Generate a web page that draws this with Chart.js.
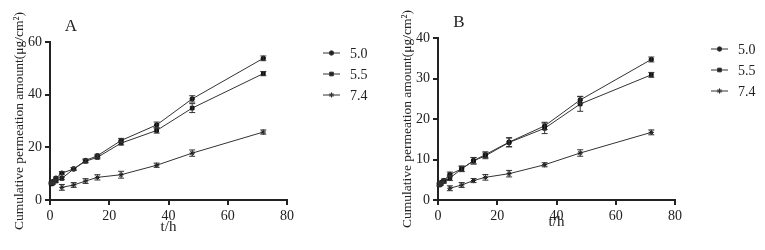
<!DOCTYPE html>
<html>
<head>
<meta charset="utf-8">
<script src="https://cdn.jsdelivr.net/npm/chart.js@4.4.1/dist/chart.umd.min.js"></script>
<style>
  html, body { margin: 0; padding: 0; background: #fff; }
  #wrap { position: relative; width: 765px; height: 250px; }
  #chartA { position: absolute; left: 0; top: 0; }
  #chartB { position: absolute; left: 380px; top: 0; }
</style>
</head>
<body>
<div id="wrap">
  <canvas id="chartA" width="380" height="250"></canvas>
  <canvas id="chartB" width="385" height="250"></canvas>
</div>
<script>
// sampling times (h)
const times = [0.5, 1, 2, 4, 8, 12, 16, 24, 36, 48, 72];
const times74 = [4, 8, 12, 16, 24, 36, 48, 72];
const seriesLabels = ['5.0', '5.5', '7.4'];

// panel A
const a50 = [6.6, 7.0, 8.3, 10.2, 11.8, 15.0, 16.8, 22.6, 28.5, 38.4, 53.8];
const a50Err = [0.3, 0.3, 0.4, 0.6, 0.5, 0.6, 0.6, 0.8, 1.1, 1.2, 0.9];
const a55 = [6.1, 6.4, 7.2, 8.2, 11.8, 14.7, 16.2, 21.6, 26.4, 34.9, 48.0];
const a55Err = [0.3, 0.3, 0.4, 0.5, 0.5, 0.6, 0.6, 0.7, 1.0, 1.7, 0.8];
const a74 = [4.8, 5.7, 7.2, 8.6, 9.6, 13.2, 17.8, 25.8];
const a74Err = [1.1, 0.9, 0.9, 1.0, 1.3, 0.8, 1.2, 0.8];

// panel B
const b50 = [3.9, 4.3, 4.8, 6.3, 7.7, 9.7, 11.2, 14.3, 18.3, 24.7, 34.7];
const b50Err = [0.3, 0.3, 0.4, 0.6, 0.6, 0.8, 0.7, 1.1, 0.9, 0.9, 0.6];
const b55 = [3.7, 4.0, 4.6, 5.4, 7.7, 9.7, 10.9, 14.2, 17.7, 23.7, 30.9];
const b55Err = [0.3, 0.3, 0.4, 0.6, 0.7, 0.8, 0.7, 1.1, 1.3, 1.8, 0.6];
const b74 = [2.9, 3.7, 4.8, 5.6, 6.5, 8.7, 11.6, 16.7];
const b74Err = [0.6, 0.6, 0.5, 0.7, 0.8, 0.5, 0.8, 0.6];

const ink = '#333';
const serif = "'Liberation Serif', 'Times New Roman', serif";
const pointStyles = ['circle', 'rect', 'star'];
const pointRadii = [2.2, 2.6, 2.6];

function toXY(xs, ys) {
    return xs.map(function(x, i) { return { x: x, y: ys[i] }; });
}

// vertical error bars with caps
const errorBars = {
    id: 'errorBars',
    afterDatasetsDraw: function(chart) {
        const ctx = chart.ctx;
        const yScale = chart.scales.y;
        ctx.save();
        ctx.strokeStyle = ink;
        ctx.lineWidth = 1;
        chart.data.datasets.forEach(function(ds, di) {
            const meta = chart.getDatasetMeta(di);
            meta.data.forEach(function(pt, i) {
                const e = ds.errors[i];
                const v = ds.data[i].y;
                const yTop = yScale.getPixelForValue(v + e);
                const yBot = yScale.getPixelForValue(v - e);
                ctx.beginPath();
                ctx.moveTo(pt.x, yTop); ctx.lineTo(pt.x, yBot);
                ctx.moveTo(pt.x - 3, yTop); ctx.lineTo(pt.x + 3, yTop);
                ctx.moveTo(pt.x - 3, yBot); ctx.lineTo(pt.x + 3, yBot);
                ctx.stroke();
            });
        });
        ctx.restore();
    }
};

// panel letter and side legend
const decorations = {
    id: 'decorations',
    afterDraw: function(chart, args, opts) {
        const ctx = chart.ctx;
        const area = chart.chartArea;
        ctx.save();
        ctx.fillStyle = '#222';
        ctx.font = '17px ' + serif;
        ctx.textAlign = 'center';
        ctx.textBaseline = 'middle';
        ctx.fillText(opts.letter, area.left + 21, area.top - 15);

        ctx.font = '14px ' + serif;
        ctx.textAlign = 'left';
        chart.data.datasets.forEach(function(ds, i) {
            const y = area.top + 11 + i * 21;
            const x0 = area.right + 36;
            ctx.strokeStyle = ink;
            ctx.lineWidth = 1;
            ctx.beginPath();
            ctx.moveTo(x0, y); ctx.lineTo(x0 + 17, y);
            ctx.stroke();
            Chart.helpers.drawPoint(ctx, {
                pointStyle: ds.pointStyle, radius: ds.pointRadius,
                borderWidth: 1, rotation: 0
            }, x0 + 8.5, y);
            ctx.fillStyle = '#222';
            ctx.fillText(ds.label, x0 + 27, y + 1);
        });
        ctx.restore();
    }
};

function makePanel(id, letter, s50, e50, s55, e55, s74, e74, yMax, yStep, padTop, padLeft, padRight, xTitlePad) {
    const sets = [
        { xs: times, ys: s50, es: e50 },
        { xs: times, ys: s55, es: e55 },
        { xs: times74, ys: s74, es: e74 }
    ];
    const datasets = sets.map(function(s, i) {
        return {
            label: seriesLabels[i],
            data: toXY(s.xs, s.ys),
            errors: s.es,
            borderColor: ink,
            backgroundColor: '#111',
            borderWidth: 1,
            pointStyle: pointStyles[i],
            pointRadius: pointRadii[i],
            pointBorderColor: '#111',
            pointBackgroundColor: '#111',
            tension: 0,
            clip: false
        };
    });

    const axisCommon = {
        border: { display: true, color: '#222', width: 2 },
        grid: { display: true, drawOnChartArea: false, drawTicks: true, tickLength: 5, color: '#222', lineWidth: 2 },
        ticks: { color: '#222', font: { family: serif, size: 14 }, padding: 3 }
    };

    return new Chart(document.getElementById(id), {
        type: 'line',
        data: { datasets: datasets },
        options: {
            responsive: false,
            animation: false,
            layout: { padding: { top: padTop, left: padLeft, right: padRight, bottom: 0 } },
            scales: {
                x: Object.assign({}, axisCommon, {
                    type: 'linear',
                    min: 0, max: 80,
                    ticks: Object.assign({}, axisCommon.ticks, { stepSize: 20, maxRotation: 0 }),
                    title: { display: true, text: 't/h', color: '#222', font: { family: serif, size: 15 }, padding: { top: 0, bottom: xTitlePad } },
                    afterFit: function(s) { s.height = 50; }
                }),
                y: Object.assign({}, axisCommon, {
                    min: 0, max: yMax,
                    ticks: Object.assign({}, axisCommon.ticks, { stepSize: yStep }),
                    title: { display: true, text: 'Cumulative permeation amount(μg/cm²)', color: '#222', font: { family: serif, size: 13.5 }, padding: { top: 11, bottom: 0 } },
                    afterFit: function(s) { s.width = 50; }
                })
            },
            plugins: {
                legend: { display: false },
                tooltip: { enabled: false },
                decorations: { letter: letter }
            }
        },
        plugins: [errorBars, decorations]
    });
}

makePanel('chartA', 'A', a50, a50Err, a55, a55Err, a74, a74Err, 60, 20, 42, 0, 93, 14);
makePanel('chartB', 'B', b50, b50Err, b55, b55Err, b74, b74Err, 40, 10, 38, 8, 90, 19);
</script>
</body>
</html>
